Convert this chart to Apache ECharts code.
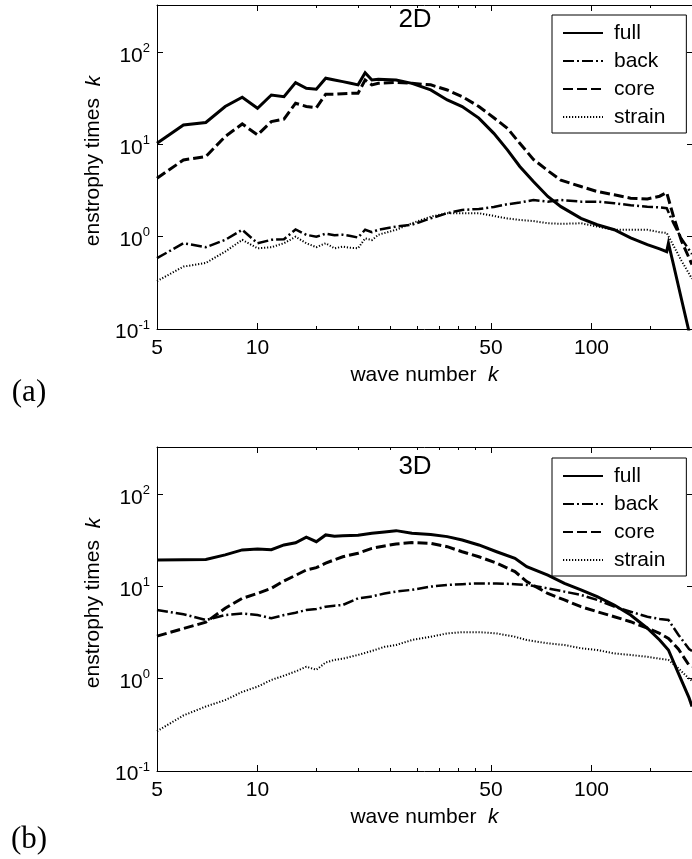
<!DOCTYPE html>
<html>
<head>
<meta charset="utf-8">
<script src="https://cdn.jsdelivr.net/npm/echarts@6/dist/echarts.min.js"></script>
<style>
html,body{margin:0;padding:0;background:#fff;}
#chart{width:692px;height:859px;}
</style>
</head>
<body>
<div id="chart"></div>
<script>
// ---------------- data ----------------
const seriesNames = ['full', 'back', 'core', 'strain'];
const panelTitles = ['2D', '3D'];
const panelTags = ['(a)', '(b)'];

// x tick values (wave number k)
const xLabelTicks = [5, 10, 50, 100];
const xMinorTicks = [15, 20, 25, 30, 35, 40, 45, 150, 200];
// y tick values (enstrophy times k)
const yLabelTicks = [0.1, 1, 10, 100];

// panel (a): 2D
const k2D = [5,6,7,8,9,10,11,12,13,14,15,16,17,18,19,20,21,22,23,26,29,33,37,41,46,51,56,61,67,74,81,93,104,117,131,147,160,168,170,176,186,200];
const full2D = [10.3,16.3,17.3,25.8,32.5,24.7,34.4,33,46.9,40.7,39.8,52.3,50,48,46,44.3,60,50,51,50,46,39,30.4,25.8,19.3,13.2,8.75,5.77,3.96,2.73,2.12,1.58,1.35,1.19,0.97,0.82,0.74,0.69,0.85,0.5,0.21,0.068];
const back2D = [0.586,0.85,0.77,0.925,1.19,0.85,0.925,0.94,1.2,1.05,1.0,1.08,1.04,1.05,1.02,0.98,1.19,1.12,1.19,1.29,1.35,1.58,1.8,1.95,2.0,2.1,2.25,2.35,2.5,2.4,2.5,2.4,2.4,2.31,2.2,2.12,2.08,2.04,2.0,1.4,0.95,0.65];
const core2D = [4.3,6.8,7.4,12.2,16.7,12.7,17.7,18.8,28,25.8,25,35.1,35,35.5,35.8,36,50,44.3,46,47,46,44.3,39,33,25.8,19.5,15,10.3,6.9,5.2,4.1,3.5,3.09,2.85,2.62,2.57,2.75,3.01,3.0,1.66,0.9,0.5];
const strain2D = [0.33,0.475,0.52,0.69,0.925,0.75,0.77,0.85,1.0,0.85,0.77,0.85,0.75,0.78,0.76,0.75,0.96,0.92,1.05,1.19,1.4,1.65,1.8,1.8,1.8,1.68,1.58,1.52,1.48,1.4,1.38,1.4,1.29,1.19,1.19,1.19,1.12,1.1,1.08,0.8,0.55,0.35];

// panel (b): 3D
const k3D = [5,6,7,8,9,10,11,12,13,14,15,16,17,18,20,22,24,26,29,33,37,41,46,52,59,64,74,83,93,104,117,131,147,160,170,182,196,200];
const full3D = [19.4,19.5,19.6,22,24.9,25.5,25,28.2,29.8,34.2,30.6,36.2,35,35.5,36,37.8,39,40.3,37.8,36.5,34.7,31.9,28.2,23.8,20.2,16.4,13.3,10.8,9.2,7.76,6.3,4.91,3.53,2.63,2.05,1.15,0.62,0.5];
const back3D = [5.56,5.0,4.33,4.9,5.1,4.9,4.52,4.9,5.2,5.56,5.7,6.04,6.2,6.3,7.44,7.8,8.4,8.8,9.2,9.96,10.4,10.6,10.8,10.8,10.6,10.4,9.55,8.8,8.1,7.15,6.04,5.33,4.7,4.45,4.33,3.0,2.1,2.0];
const core3D = [2.9,3.5,4.1,5.8,7.44,8.4,9.55,11.5,13.2,15.1,16,17.9,19.5,21,22.9,25.9,27.5,28.9,29.9,29.4,27,23.8,21,17.9,14.5,11.3,8.4,7.15,6.04,5.33,4.7,4.15,3.53,3.1,2.74,2.1,1.4,1.35];
const strain3D = [0.27,0.4,0.5,0.587,0.72,0.82,0.97,1.08,1.2,1.35,1.25,1.5,1.6,1.65,1.81,2.0,2.22,2.32,2.63,2.85,3.1,3.2,3.2,3.1,2.85,2.63,2.42,2.32,2.14,2.05,1.88,1.81,1.73,1.65,1.6,1.3,1.0,0.95];

// ---------------- styling ----------------
const FONT = '"Liberation Sans", Arial, Helvetica, sans-serif';
const lineStyles = {
  full:   { width: 3,   type: 'solid' },
  back:   { width: 2.5, type: [11, 3, 2, 3] },
  core:   { width: 3,   type: [10, 4] },
  strain: { width: 2,   type: [1.2, 1.8] }
};

const panels = [
  { k: k2D, values: [full2D, back2D, core2D, strain2D], top: 5, titleTop: 7, legendTop: 15, tagY: 393 },
  { k: k3D, values: [full3D, back3D, core3D, strain3D], top: 447, titleTop: 454, legendTop: 458, tagY: 840 }
];

const grids = [], xAxes = [], yAxes = [], series = [], legends = [], titles = [], graphics = [];
const PLOT_H = 324;
const X_MIN = 5, X_MAX = 200, Y_MIN = 0.1, Y_MAX = 325;

panels.forEach((p, pi) => {
  grids.push({ left: 157, right: 0, top: p.top, height: PLOT_H, containLabel: false, outerBoundsMode: 'none', show: false });
  const xBase = { gridIndex: pi, type: 'log', logBase: 10, min: X_MIN, max: X_MAX, splitLine: { show: false }, minorTick: { show: false } };
  const xi = xAxes.length;
  // bottom major
  xAxes.push(Object.assign({}, xBase, {
    position: 'bottom',
    axisLine: { show: true, onZero: false, lineStyle: { color: '#000', width: 1 } },
    axisTick: { show: true, inside: true, length: 6, customValues: xLabelTicks, lineStyle: { color: '#000', width: 1 } },
    axisLabel: { show: true, customValues: xLabelTicks, margin: 9, color: '#000', fontSize: 21, fontFamily: FONT,
                 formatter: v => String(Math.round(v)) },
    name: 'wave number  {i|k}', nameLocation: 'middle', nameGap: 36,
    nameTextStyle: { color: '#000', fontSize: 21, fontFamily: FONT,
      rich: { i: { fontStyle: 'italic', fontSize: 21, fontFamily: FONT, color: '#000' } } }
  }));
  // bottom minor
  xAxes.push(Object.assign({}, xBase, {
    position: 'bottom',
    axisLine: { show: false, onZero: false },
    axisTick: { show: true, inside: true, length: 3, customValues: xMinorTicks, lineStyle: { color: '#000', width: 1 } },
    axisLabel: { show: false }
  }));
  // top major
  xAxes.push(Object.assign({}, xBase, {
    position: 'top',
    axisLine: { show: true, onZero: false, lineStyle: { color: '#000', width: 1 } },
    axisTick: { show: true, inside: true, length: 6, customValues: xLabelTicks, lineStyle: { color: '#000', width: 1 } },
    axisLabel: { show: false }
  }));
  // top minor
  xAxes.push(Object.assign({}, xBase, {
    position: 'top',
    axisLine: { show: false, onZero: false },
    axisTick: { show: true, inside: true, length: 3, customValues: xMinorTicks, lineStyle: { color: '#000', width: 1 } },
    axisLabel: { show: false }
  }));

  const yBase = { gridIndex: pi, type: 'log', logBase: 10, min: Y_MIN, max: Y_MAX, splitLine: { show: false }, minorTick: { show: false } };
  const yi = yAxes.length;
  yAxes.push(Object.assign({}, yBase, {
    position: 'left',
    axisLine: { show: true, onZero: false, lineStyle: { color: '#000', width: 1 } },
    axisTick: { show: true, inside: true, length: 6, customValues: yLabelTicks, lineStyle: { color: '#000', width: 1 } },
    axisLabel: {
      show: true, customValues: yLabelTicks, margin: 7,
      formatter: v => '{b|10}{s|' + Math.round(Math.log10(v)) + '}',
      rich: {
        b: { fontSize: 21, lineHeight: 21, fontFamily: FONT, color: '#000', padding: [7, 0, 0, 0] },
        s: { fontSize: 13, lineHeight: 13, fontFamily: FONT, color: '#000', verticalAlign: 'top' }
      }
    },
    name: 'enstrophy times  {i|k}', nameLocation: 'middle', nameRotate: 90, nameGap: 52,
    nameTextStyle: { color: '#000', fontSize: 21, fontFamily: FONT, padding: [0, 0, 0, 12],
      rich: { i: { fontStyle: 'italic', fontSize: 21, fontFamily: FONT, color: '#000' } } }
  }));
  yAxes.push(Object.assign({}, yBase, {
    position: 'right',
    axisLine: { show: true, onZero: false, lineStyle: { color: '#000', width: 1 } },
    axisTick: { show: true, inside: true, length: 5, customValues: yLabelTicks, lineStyle: { color: '#000', width: 1 } },
    axisLabel: { show: false }
  }));

  seriesNames.forEach((name, si) => {
    const vals = p.values[si];
    series.push({
      type: 'line', name: name, xAxisIndex: xi, yAxisIndex: yi,
      data: p.k.map((kk, j) => [kk, vals[j]]),
      symbol: 'none', showSymbol: false, clip: true, animation: false, silent: true,
      lineStyle: { color: '#000', width: lineStyles[name].width, type: lineStyles[name].type, cap: 'butt', join: 'miter' },
      itemStyle: { color: '#000' },
      emphasis: { disabled: true }, z: 2
    });
  });

  legends.push({
    data: seriesNames, orient: 'vertical', left: 552, top: p.legendTop,
    padding: [7.5, 21, 5.5, 10], itemWidth: 40, itemHeight: 14, itemGap: 7,
    borderColor: '#000', borderWidth: 1, backgroundColor: '#fff', borderRadius: 0,
    selectedMode: false, inactiveColor: '#000',
    itemStyle: { color: 'rgba(0,0,0,0)', borderColor: 'rgba(0,0,0,0)', borderWidth: 0, opacity: 0 },
    textStyle: { fontSize: 21, lineHeight: 21, fontFamily: FONT, color: '#000', padding: [0, 0, 0, 6] },
    z: 10
  });

  titles.push({
    text: panelTitles[pi], left: 415, top: p.titleTop, textAlign: 'center', padding: 0,
    textStyle: { fontSize: 26, fontWeight: 'normal', fontFamily: FONT, color: '#000', lineHeight: 26 }
  });

  graphics.push({
    type: 'text', x: 29, y: p.tagY,
    style: { text: panelTags[pi], fill: '#000', font: '31px "Liberation Serif", "Times New Roman", serif',
             align: 'center', verticalAlign: 'middle', textAlign: 'center', textVerticalAlign: 'middle' }
  });
});

const chart = echarts.init(document.getElementById('chart'), null, { renderer: 'canvas' });
chart.setOption({
  backgroundColor: '#fff',
  animation: false,
  title: titles,
  grid: grids,
  xAxis: xAxes,
  yAxis: yAxes,
  legend: legends,
  series: series,
  graphic: graphics,
  tooltip: { show: false }
});
</script>
</body>
</html>
